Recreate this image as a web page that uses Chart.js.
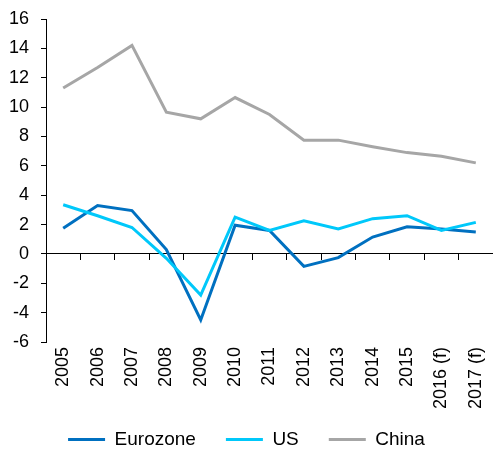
<!DOCTYPE html>
<html>
<head>
<meta charset="utf-8">
<script src="https://cdn.jsdelivr.net/npm/chart.js@4.4.1/dist/chart.umd.min.js"></script>
<style>
  html, body { margin: 0; padding: 0; background: #ffffff; }
  #wrap { width: 493px; height: 449px; position: relative; }
</style>
</head>
<body>
<div id="wrap"><canvas id="c" width="493" height="449"></canvas></div>
<script>
const categories = ['2005', '2006', '2007', '2008', '2009', '2010', '2011', '2012', '2013', '2014', '2015', '2016 (f)', '2017 (f)'];
const eurozone = [1.75, 3.3, 2.95, 0.3, -4.5, 1.95, 1.6, -0.85, -0.25, 1.15, 1.85, 1.7, 1.5];
const us = [3.35, 2.6, 1.8, -0.3, -2.8, 2.5, 1.6, 2.25, 1.7, 2.4, 2.6, 1.6, 2.15];
const china = [11.3, 12.7, 14.2, 9.65, 9.2, 10.65, 9.5, 7.75, 7.75, 7.3, 6.9, 6.65, 6.2];
const yTicks = { min: -6, max: 16, step: 2 };

const FONT = { family: "'Liberation Sans', Arial, sans-serif", size: 18 };
const LEGEND_FONT = { family: "'Liberation Sans', Arial, sans-serif", size: 19 };
const baseGen = Chart.defaults.plugins.legend.labels.generateLabels;

// let the rotated category labels run past the scale box without being clipped
const unclipLabels = {
  id: 'unclipLabels',
  afterLayout(chart) {
    const x = chart.scales.x;
    if (x) x.bottom = chart.height;
  }
};

new Chart(document.getElementById('c'), {
  type: 'line',
  data: {
    labels: categories,
    datasets: [
      { label: 'Eurozone', data: eurozone, borderColor: '#0070C0', backgroundColor: '#0070C0', order: 1 },
      { label: 'US', data: us, borderColor: '#00C8FA', backgroundColor: '#00C8FA', order: 0 },
      { label: 'China', data: china, borderColor: '#A6A6A6', backgroundColor: '#A6A6A6', order: 2 }
    ]
  },
  plugins: [unclipLabels],
  options: {
    responsive: false,
    animation: false,
    devicePixelRatio: 1,
    layout: { padding: { top: 19, left: 0, right: 0, bottom: -10 } },
    elements: {
      line: { borderWidth: 3, tension: 0, fill: false },
      point: { radius: 0, hoverRadius: 0 }
    },
    scales: {
      x: {
        type: 'category',
        offset: true,
        grid: { display: false, drawTicks: false },
        border: { display: false },
        ticks: { autoSkip: false, maxRotation: 90, minRotation: 90, padding: 5, color: '#000', font: FONT },
        afterFit: (s) => { s.height = 58; s.paddingLeft = 0; s.paddingRight = 0; }
      },
      x2: {
        type: 'category',
        labels: categories,
        position: { y: 0 },
        offset: true,
        grid: { offset: true, drawOnChartArea: false, drawTicks: true, tickLength: 6, color: '#000', lineWidth: 1 },
        border: { display: true, color: '#000', width: 1 },
        ticks: { display: false },
        afterFit: (s) => { s.height = 0; s.paddingLeft = 0; s.paddingRight = 0; }
      },
      y: {
        min: yTicks.min,
        max: yTicks.max,
        ticks: { stepSize: yTicks.step, padding: 12, color: '#000', font: FONT },
        grid: { drawOnChartArea: false, drawTicks: true, tickLength: 5, color: '#000', lineWidth: 1 },
        border: { display: true, color: '#000', width: 1 },
        afterFit: (s) => { s.width = 46; s.paddingTop = 0; s.paddingBottom = 0; }
      }
    },
    plugins: {
      tooltip: { enabled: false },
      legend: {
        position: 'bottom',
        labels: {
          boxWidth: 37,
          boxHeight: 3,
          padding: 30,
          color: '#000',
          font: LEGEND_FONT,
          generateLabels: (chart) => baseGen(chart)
            .map(l => Object.assign({}, l, { lineWidth: 0, fillStyle: l.strokeStyle }))
            .sort((a, b) => a.datasetIndex - b.datasetIndex)
        }
      }
    }
  }
});
</script>
</body>
</html>
